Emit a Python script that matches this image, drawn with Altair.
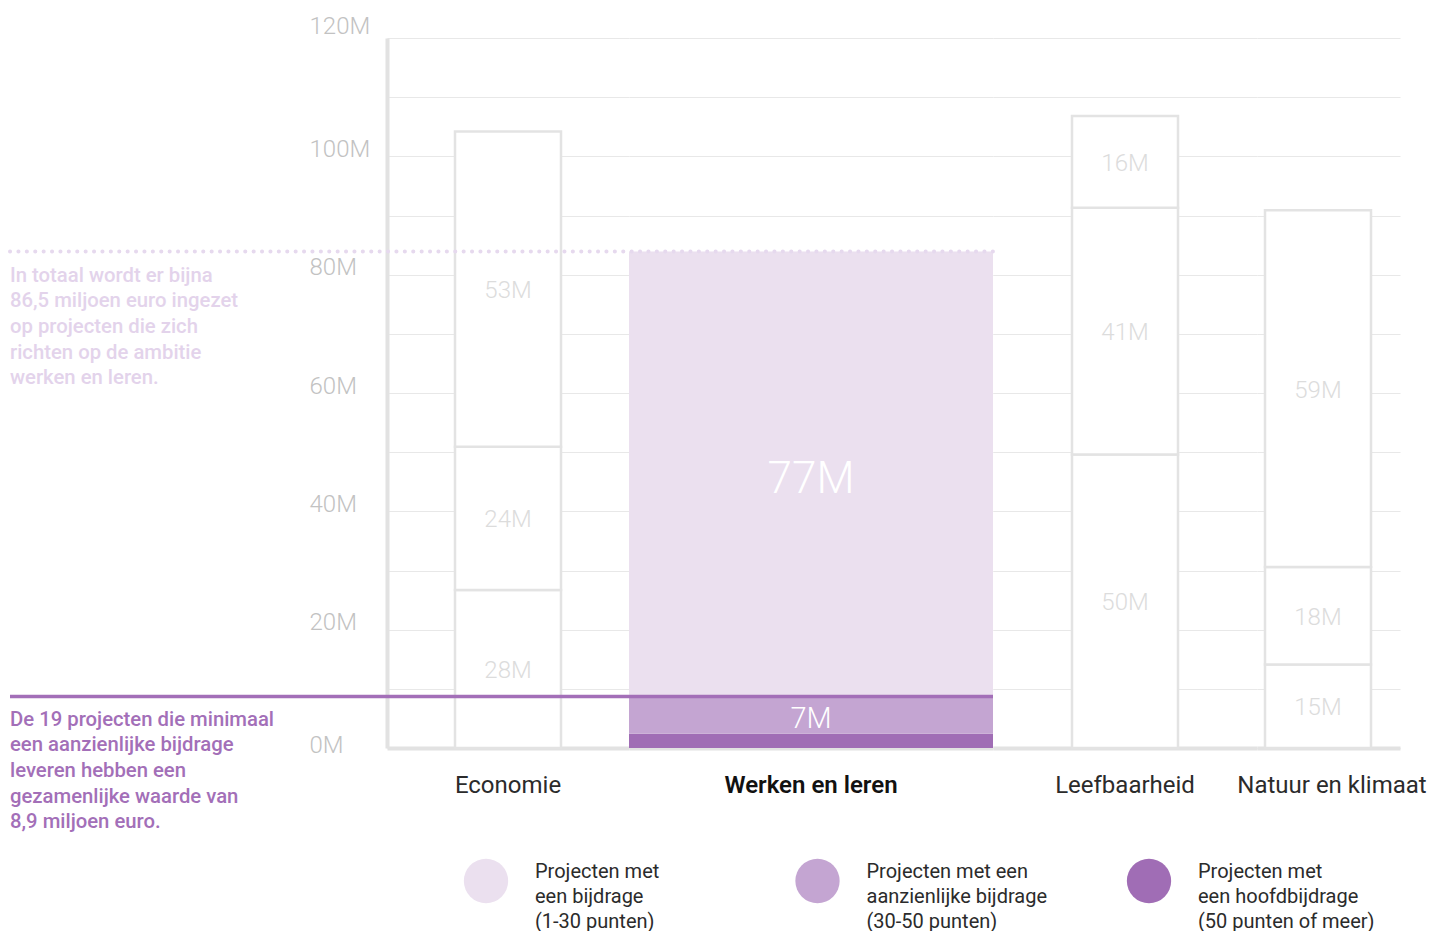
import altair as alt
import pandas as pd

# ---------------- data ----------------
categories = ["Economie", "Werken en leren", "Leefbaarheid", "Natuur en klimaat"]

# segment heights in M euro, bottom -> top
economie_values = [26.7, 24.2, 53.3]
werken_values = [2.4, 6.3, 75.2]
leefbaarheid_values = [49.6, 41.7, 15.5]
natuur_values = [14.1, 16.5, 60.3]

economie_labels = ["28M", "24M", "53M"]
werken_labels = ["", "7M", "77M"]
leefbaarheid_labels = ["50M", "41M", "16M"]
natuur_labels = ["15M", "18M", "59M"]

# legend categories (light, medium, dark)
legend_levels = [
    "Projecten met|een bijdrage|(1-30 punten)",
    "Projecten met een|aanzienlijke bijdrage|(30-50 punten)",
    "Projecten met|een hoofdbijdrage|(50 punten of meer)",
]
legend_colors = ["#ebe0ef", "#c4a5d2", "#a06db5"]
# Werken en leren segments bottom -> top: hoofd, aanzienlijk, bijdrage
segment_levels = [legend_levels[2], legend_levels[1], legend_levels[0]]

y_ticks = list(range(0, 121, 10))

annot_total = ["In totaal wordt er bijna", "86,5 miljoen euro ingezet",
               "op projecten die zich", "richten op de ambitie", "werken en leren."]
annot_min = ["De 19 projecten die minimaal", "een aanzienlijke bijdrage",
             "leveren hebben een", "gezamenlijke waarde van", "8,9 miljoen euro."]

# ---------------- table ----------------
rows = []
for cat, vals, labs in zip(categories,
                            [economie_values, werken_values, leefbaarheid_values, natuur_values],
                            [economie_labels, werken_labels, leefbaarheid_labels, natuur_labels]):
    for i, (v, l) in enumerate(zip(vals, labs)):
        rows.append({"cat": cat, "seg": i, "value": v, "label": l, "level": segment_levels[i]})
df = pd.DataFrame(rows)

FONT = "Roboto"
GRID = "#e8e8e8"
AXISC = "#e2e2e2"
PLOT_H = 710
color_scale = alt.Scale(domain=legend_levels, range=legend_colors)
yscale = alt.Scale(domain=[0, 120], nice=False, zero=True)


def src(cat):
    return (alt.Chart(df)
            .transform_filter(alt.datum.cat == cat)
            .transform_stack(stack="value", groupby=["cat"], as_=["y0", "y1"],
                             sort=[alt.SortField("seg", order="ascending")])
            .transform_calculate(mid="(datum.y0 + datum.y1) / 2"))


def xenc(scale_kw, bold=False, offset=0):
    return alt.X("cat:N", title=None,
                 scale=alt.Scale(paddingInner=0, **scale_kw),
                 axis=alt.Axis(labelAngle=0, labelFont=FONT, labelFontSize=24,
                               labelFontWeight=600 if bold else 400,
                               labelColor="#111111" if bold else "#2b2b2b",
                               labelPadding=25, labelOffset=offset, labelLimit=400,
                               ticks=False, tickSize=0, domain=True,
                               domainColor=AXISC, domainWidth=4, grid=False))


def yaxis(first):
    if first:
        return alt.Axis(values=y_ticks, title=None,
                        labelExpr="datum.value % 20 == 0 ? datum.value + 'M' : ''",
                        labelAlign="left", labelPadding=78, labelBaseline="alphabetic",
                        labelOffset={"condition": [{"test": "datum.value == 120", "value": -5},
                                                   {"test": "datum.value == 0", "value": 4}],
                                     "value": 0},
                        labelFont=FONT, labelFontSize=24, labelFontWeight=300,
                        labelColor="#c2c2c2", labelOverlap=False,
                        ticks=False, tickSize=0, domain=True, domainColor=AXISC,
                        domainWidth=4, grid=True, gridColor=GRID, gridWidth=1.2)
    return alt.Axis(values=y_ticks, title=None, labels=False, ticks=False, tickSize=0,
                    domain=False, grid=True, gridColor=GRID, gridWidth=1.2)


def white_layers(cat, scale_kw, first=False, offset=0):
    base = src(cat)
    bars = base.mark_bar(fill="white", stroke="#e3e3e3", strokeWidth=2.5, width=106).encode(
        x=xenc(scale_kw, offset=offset),
        y=alt.Y("y0:Q", scale=yscale, axis=yaxis(first)),
        y2="y1:Q",
    )
    txt = base.mark_text(font=FONT, fontSize=24, fontWeight=300, color="#dcdcdc",
                         baseline="middle", dy=2).encode(
        x=alt.X("cat:N"), y=alt.Y("mid:Q"), text="label:N")
    return alt.layer(bars, txt)


# ---------------- legend (drawn below the plot of the first panel) ----------------
legend_df = pd.DataFrame({"level": legend_levels})
leg_base = alt.Chart(legend_df).transform_calculate(
    lines="split(datum.level, '|')").encode(
    x=alt.X("level:N", scale=alt.Scale(type="point", domain=legend_levels, range=[99, 762],
                                       padding=0),
            axis=None),
    y=alt.value(PLOT_H + 133))
leg_dots = leg_base.mark_circle(size=1963, opacity=1).encode(
    color=alt.Color("level:N", scale=color_scale, legend=None))
leg_text = leg_base.mark_text(align="left", baseline="top", dx=49, dy=-19, font=FONT,
                              fontSize=20, fontWeight=400, lineHeight=25,
                              color="#2b2b2b").encode(text="lines:N")
legend = alt.layer(leg_dots, leg_text)

p1 = alt.layer(white_layers("Economie", {"paddingOuter": 0}, first=True), legend).resolve_scale(
    x="independent").resolve_axis(x="independent").properties(width=242, height=PLOT_H)

wb = src("Werken en leren")
w_bars = wb.mark_bar(width=364).encode(
    x=xenc({"paddingOuter": 0}, bold=True),
    y=alt.Y("y0:Q", scale=yscale, axis=yaxis(False)),
    y2="y1:Q",
    color=alt.Color("level:N", scale=color_scale, legend=None),
)
w_txt_big = wb.transform_filter(alt.datum.seg == 2).mark_text(
    font=FONT, fontWeight=300, fontSize=44, color="white", baseline="middle", dy=6).encode(
    x=alt.X("cat:N"), y=alt.Y("mid:Q"), text="label:N")
w_txt_small = wb.transform_filter(alt.datum.seg == 1).mark_text(
    font=FONT, fontWeight=300, fontSize=29, color="white", baseline="middle", dy=4).encode(
    x=alt.X("cat:N"), y=alt.Y("mid:Q"), text="label:N")
dotted = wb.transform_filter(alt.datum.seg == 2).mark_rule(
    strokeDash=[0.1, 8.3], strokeCap="round", strokeWidth=4, color="#e6d9ee").encode(
    y="y1:Q", x=alt.value(-619), x2=alt.value(364))
solid = wb.transform_filter(alt.datum.seg == 1).mark_rule(
    strokeWidth=3.5, color="#a36fb8").encode(
    y="y1:Q", x=alt.value(-619), x2=alt.value(364))
t_total = wb.transform_filter(alt.datum.seg == 2).mark_text(
    text=annot_total, align="left", baseline="alphabetic", dy=30, font=FONT,
    fontSize=20.3, fontWeight=500, lineHeight=25.7, color="#e3d3eb").encode(
    y="y1:Q", x=alt.value(-619))
t_min = wb.transform_filter(alt.datum.seg == 1).mark_text(
    text=annot_min, align="left", baseline="alphabetic", dy=29, font=FONT,
    fontSize=20.3, fontWeight=500, lineHeight=25.7, color="#a36fb8").encode(
    y="y1:Q", x=alt.value(-619))
p2 = alt.layer(w_bars, w_txt_big, w_txt_small, dotted, solid, t_total, t_min).properties(
    width=364, height=PLOT_H)

p3 = white_layers("Leefbaarheid", {"paddingOuter": 0}).properties(width=264, height=PLOT_H)
p4 = white_layers("Natuur en klimaat", {"paddingOuter": 0.5, "align": 0.353},
                  offset=14).properties(width=143, height=PLOT_H)

chart = alt.hconcat(p1, p2, p3, p4, spacing=0, bounds="flush").resolve_scale(
    x="independent").resolve_axis(x="independent").properties(
    padding={"left": 0, "top": 6, "right": 0, "bottom": 0},
    background="white",
).configure_view(stroke=None, strokeWidth=0)

chart.save("out.html", embed_options={"renderer": "svg", "actions": False})
